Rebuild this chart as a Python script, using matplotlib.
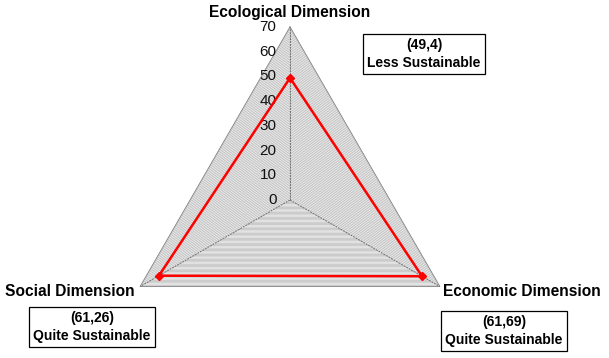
import numpy as np
import matplotlib
matplotlib.use("Agg")
import matplotlib.pyplot as plt

# sustainability index per dimension (radar chart, 0-70 scale)
categories = ["Ecological Dimension", "Economic Dimension", "Social Dimension"]
values = [49.4, 61.69, 61.26]
status = ["Less Sustainable", "Quite Sustainable", "Quite Sustainable"]
value_labels = ["(49,4)", "(61,69)", "(61,26)"]
r_max = 70
tick_values = [0, 10, 20, 30, 40, 50, 60, 70]

plt.rcParams["font.family"] = ["Liberation Sans", "DejaVu Sans"]

angles = np.deg2rad([90, -30, 210])


def to_xy(r):
    r = np.asarray(r, dtype=float)
    return r * np.cos(angles), r * np.sin(angles)


fig = plt.figure(figsize=(6.09, 3.58), dpi=100)
ax = fig.add_axes([0, 0, 1, 1])
scale = 173 / r_max  # pixels per unit
ax.set_xlim(-290 / scale, 319 / scale)
ax.set_ylim(-158 / scale, 200 / scale)
ax.axis("off")


def px(x, y):
    # figure pixel (from top-left) -> data coords
    return (x - 290) / scale, (200 - y) / scale


# dense concentric triangle grid, one line per unit
for r in range(1, r_max + 1):
    x, y = to_xy([r] * 3)
    ax.plot(np.append(x, x[0]), np.append(y, y[0]), color="#a8a8a8", lw=0.42, zorder=1)
x, y = to_xy([r_max] * 3)
ax.plot(np.append(x, x[0]), np.append(y, y[0]), color="#909090", lw=0.7, zorder=1)

# spokes
for a in angles:
    ax.plot([0, r_max * np.cos(a)], [0, r_max * np.sin(a)], color="#707070", lw=0.7,
            linestyle=(0, (2, 1)), zorder=2)

# radial tick labels along the top spoke
for t in tick_values:
    ax.text(-5.5, t, str(t), ha="right", va="center", fontsize=11, color="#111111", zorder=3)

# data polygon
x, y = to_xy(values)
ax.plot(np.append(x, x[0]), np.append(y, y[0]), color="red", lw=1.8, zorder=4)
ax.plot(x, y, "D", color="red", markersize=4, zorder=5)

# axis titles
ax.text(*px(290, 12), categories[0], ha="center", va="center", fontsize=11.2, fontweight="bold")
ax.text(*px(443, 291), categories[1], ha="left", va="center", fontsize=11.2, fontweight="bold")
ax.text(*px(135, 291), categories[2], ha="right", va="center", fontsize=11.2, fontweight="bold")

# annotation boxes
box = dict(boxstyle="square,pad=0.3", fc="white", ec="black", lw=0.9)
box_pos = [(424, 54), (504, 331), (92, 327)]
for (bx, by), vl, st in zip(box_pos, value_labels, status):
    ax.text(*px(bx, by), f"{vl}\n{st}", ha="center", va="center",
            fontsize=10, fontweight="bold", linespacing=1.3, bbox=box)

fig.savefig("out.png", dpi=100)
